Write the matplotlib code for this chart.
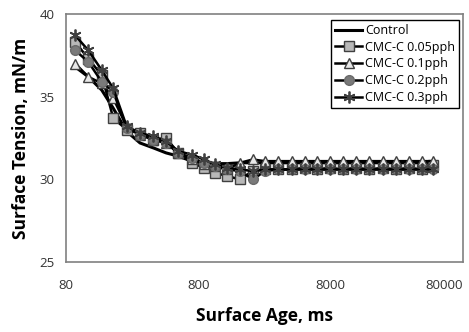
import numpy as np
import matplotlib.pyplot as plt
from matplotlib.ticker import FixedLocator, NullLocator

plt.rcParams['font.family'] = ['Open Sans', 'DejaVu Sans']

# surface age (ms)
age = [94, 118, 149, 182, 230, 290, 366, 456, 565, 713, 883, 1069, 1312, 1652,
       2061, 2553, 3214, 4055, 5117, 6266, 7907, 9863, 12450, 15670, 19770,
       24950, 31410, 38990, 47750]

control = [36.8, 36.2, 35.4, 34.3, 32.9, 32.2, 31.9, 31.6, 31.4, 31.1, 31.0, 30.95,
           30.95, 31.0, 31.0, 31.0, 31.0, 31.0, 31.0, 31.0, 31.0, 31.0, 31.0, 31.0,
           31.0, 31.0, 31.0, 31.0, 31.0]
cmc_005 = [38.3, 37.3, 36.3, 33.7, 33.0, 32.8, 32.4, 32.5, 31.6, 31.0, 30.7, 30.4,
           30.2, 30.0, 30.5, 30.6, 30.6, 30.6, 30.7, 30.6, 30.7, 30.6, 30.7, 30.6,
           30.7, 30.6, 30.7, 30.6, 30.85]
cmc_01 = [37.0, 36.2, 35.8, 34.9, 33.2, 32.7, 32.4, 32.2, 31.6, 31.2, 30.9, 30.8,
          30.6, 31.0, 31.2, 31.1, 31.1, 31.1, 31.1, 31.1, 31.1, 31.1, 31.1, 31.1,
          31.1, 31.1, 31.1, 31.1, 31.1]
cmc_02 = [37.8, 37.1, 35.9, 35.3, 33.1, 32.7, 32.4, 32.2, 31.6, 31.3, 31.0, 30.8,
          30.6, 30.5, 30.0, 30.5, 30.6, 30.6, 30.6, 30.6, 30.6, 30.6, 30.6, 30.6,
          30.6, 30.6, 30.6, 30.6, 30.6]
cmc_03 = [38.7, 37.8, 36.6, 35.5, 33.2, 32.8, 32.6, 32.3, 31.7, 31.5, 31.2, 30.9,
          30.7, 30.6, 30.5, 30.6, 30.6, 30.6, 30.6, 30.6, 30.6, 30.6, 30.6, 30.6,
          30.6, 30.6, 30.6, 30.6, 30.6]

x_ticks = [80, 800, 8000, 80000]
x_labels = ['80', '800', '8000', '80000']

fig = plt.figure(figsize=(4.69, 3.32), dpi=100)
ax = fig.add_axes([66 / 469, 1 - 262 / 332, (463 - 66) / 469, (262 - 14) / 332])

ax.plot(age, control, color='black', lw=2.2, label='Control')
ax.plot(age, cmc_005, color='black', lw=1.8, marker='s', ms=7,
        mfc='#b8b8b8', mec='#404040', mew=1, label='CMC-C 0.05pph')
ax.plot(age, cmc_01, color='black', lw=1.8, marker='^', ms=7,
        mfc='#e8e8e8', mec='#404040', mew=1, label='CMC-C 0.1pph')
ax.plot(age, cmc_02, color='black', lw=1.8, marker='o', ms=7,
        mfc='#7a7a7a', mec='#6a6a6a', mew=1, label='CMC-C 0.2pph')
ax.plot(age, cmc_03, color='black', lw=1.8, marker=(6, 2, 0), ms=8.5,
        mfc='#555555', mec='#404040', mew=1.3, label='CMC-C 0.3pph')

ax.set_xscale('log')
ax.set_xlim(80, 80000)
ax.set_ylim(25, 40)
ax.xaxis.set_major_locator(FixedLocator(x_ticks))
ax.xaxis.set_minor_locator(NullLocator())
ax.set_xticklabels(x_labels)
ax.set_yticks([25, 30, 35, 40])
ax.tick_params(length=0, labelsize=9.5, labelcolor='#333333', pad=12)
ax.tick_params(axis='y', pad=8)
# last label would run off the figure edge; pull it inside
last = ax.get_xticklabels()[-1]
last.set_horizontalalignment('right')
last.set_x(1.0)

for s in ax.spines.values():
    s.set_color('#808080')
    s.set_linewidth(1.2)

ax.set_xlabel('Surface Age, ms', fontsize=12.5, fontweight='bold', labelpad=11)
ax.set_ylabel('Surface Tension, mN/m', fontsize=12.5, fontweight='bold', labelpad=7)

leg = ax.legend(loc='upper right', bbox_to_anchor=(0.995, 0.985), fontsize=9,
                frameon=True, fancybox=False, framealpha=1, edgecolor='black',
                handlelength=2.2, handletextpad=0.2, borderpad=0.3,
                labelspacing=0.3, borderaxespad=0.2)
leg.get_frame().set_linewidth(1)

fig.savefig('out.png', dpi=100)
